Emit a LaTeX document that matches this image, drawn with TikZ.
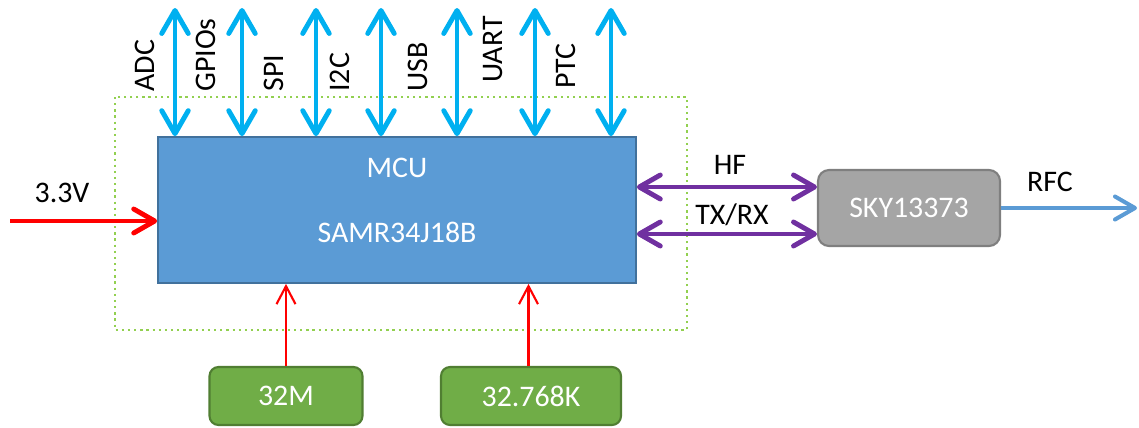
\documentclass[tikz,border=0pt]{standalone}
\usepackage{fontspec}
\setmainfont{Carlito}
\usetikzlibrary{arrows.meta}
\definecolor{busblue}{HTML}{00B0F0}
\definecolor{mcublue}{HTML}{5B9BD5}
\definecolor{mcuedge}{HTML}{41719C}
\definecolor{rfpurple}{HTML}{7030A0}
\definecolor{xtalgreen}{HTML}{70AD47}
\definecolor{xtaledge}{HTML}{507E32}
\definecolor{swgray}{HTML}{A5A5A5}
\definecolor{swedge}{HTML}{7F7F7F}
\definecolor{framegreen}{HTML}{92D050}
\tikzset{
	busarrow/.style={draw=busblue, line width=2.8pt, {Straight Barb[length=4.6mm, width=5.3mm, line cap=round, line join=round]}-{Straight Barb[length=4.6mm, width=5.3mm, line cap=round, line join=round]}},
	rfarrow/.style={draw=rfpurple, line width=2.8pt, {Straight Barb[length=4.2mm, width=4.8mm, line cap=round, line join=round]}-{Straight Barb[length=4.2mm, width=4.8mm, line cap=round, line join=round]}},
	pwrarrow/.style={draw=red, line width=2.8pt, -{Straight Barb[length=4.2mm, width=4.8mm, line cap=round, line join=round]}},
	clkarrow/.style={draw=red, line width=1.2pt, -{Straight Barb[length=3.6mm, width=3.8mm]}},
	antarrow/.style={draw=mcublue, line width=2.3pt, -{Straight Barb[length=4mm, width=4.6mm, line cap=round, line join=round]}},
	chip/.style={draw=mcuedge, line width=1pt, fill=mcublue, minimum width=9.56cm, minimum height=2.92cm},
	xtal/.style={draw=xtaledge, line width=1.2pt, fill=xtalgreen, rounded corners=0.18cm, minimum height=1.16cm, text=white},
	switch/.style={draw=swedge, line width=1.2pt, fill=swgray, rounded corners=0.22cm, minimum width=3.64cm, minimum height=1.52cm, text=white},
	chiptext/.style={text=white},
	buslabel/.style={rotate=90, anchor=west, inner sep=0pt},
	mcuframe/.style={draw=framegreen, line width=1.3pt, dash pattern=on 1.3pt off 2.2pt}
}
\begin{document}
\begin{tikzpicture}[x=0.02cm, y=-0.02cm, font=\fontsize{17}{20}\selectfont]
	\useasboundingbox (0,0) rectangle (1139,427);
	
	% board frame and chip
	\draw[mcuframe] (115,97) rectangle (687,330);
	\node[chip] (mcu) at (397,210) {};
	\node[chiptext] (mcuname) at (397,168) {MCU};
	\node[chiptext] (mcupart) at (397,232) {SAMR34J18B};
	
	% peripheral buses
	\foreach \x/\lx/\ly/\lab [count=\i] in {175/145/92/ADC, 242/206/92/GPIOs, 316/274/92/SPI, 381/340/92/I2C, 457/418/92/USB, 535/493/83/UART, 611/566/89/PTC}{
		\coordinate (bus\i) at (\x,8);
		\draw[busarrow] (bus\i) -- (bus\i |- mcu.north);
		\node[buslabel] (buslab\i) at (\lx,\ly) {\lab};
	}
	
	% supply
	\coordinate (vin) at (10,221);
	\draw[pwrarrow] (vin) -- (vin -| mcu.west);
	\node (vinlab) at (62,193) {3.3V};
	
	% crystals
	\node[xtal, minimum width=3.06cm] (osc1) at (286,396) {32M};
	\node[xtal, minimum width=3.6cm] (osc2) at (531,396) {32.768K};
	\draw[clkarrow] (osc1.north) -- (osc1.north |- mcu.south);
	\draw[clkarrow] ([xshift=-0.05cm]osc2.north) -- ([xshift=-0.05cm]osc2.north |- mcu.south);
	
	% rf switch
	\node[switch] (sky) at (909,208) {SKY13373};
	\draw[rfarrow] (mcu.east |- 0,187) -- (sky.west |- 0,187);
	\draw[rfarrow] (mcu.east |- 0,234) -- (sky.west |- 0,234);
	\node (hflab) at (730,165) {HF};
	\node (trxlab) at (732,215) {TX/RX};
	
	\coordinate (rfc) at (1137,208);
	\draw[antarrow] (sky.east) -- (rfc);
	\node (rfclab) at (1050,182) {RFC};
\end{tikzpicture}
\end{document}
